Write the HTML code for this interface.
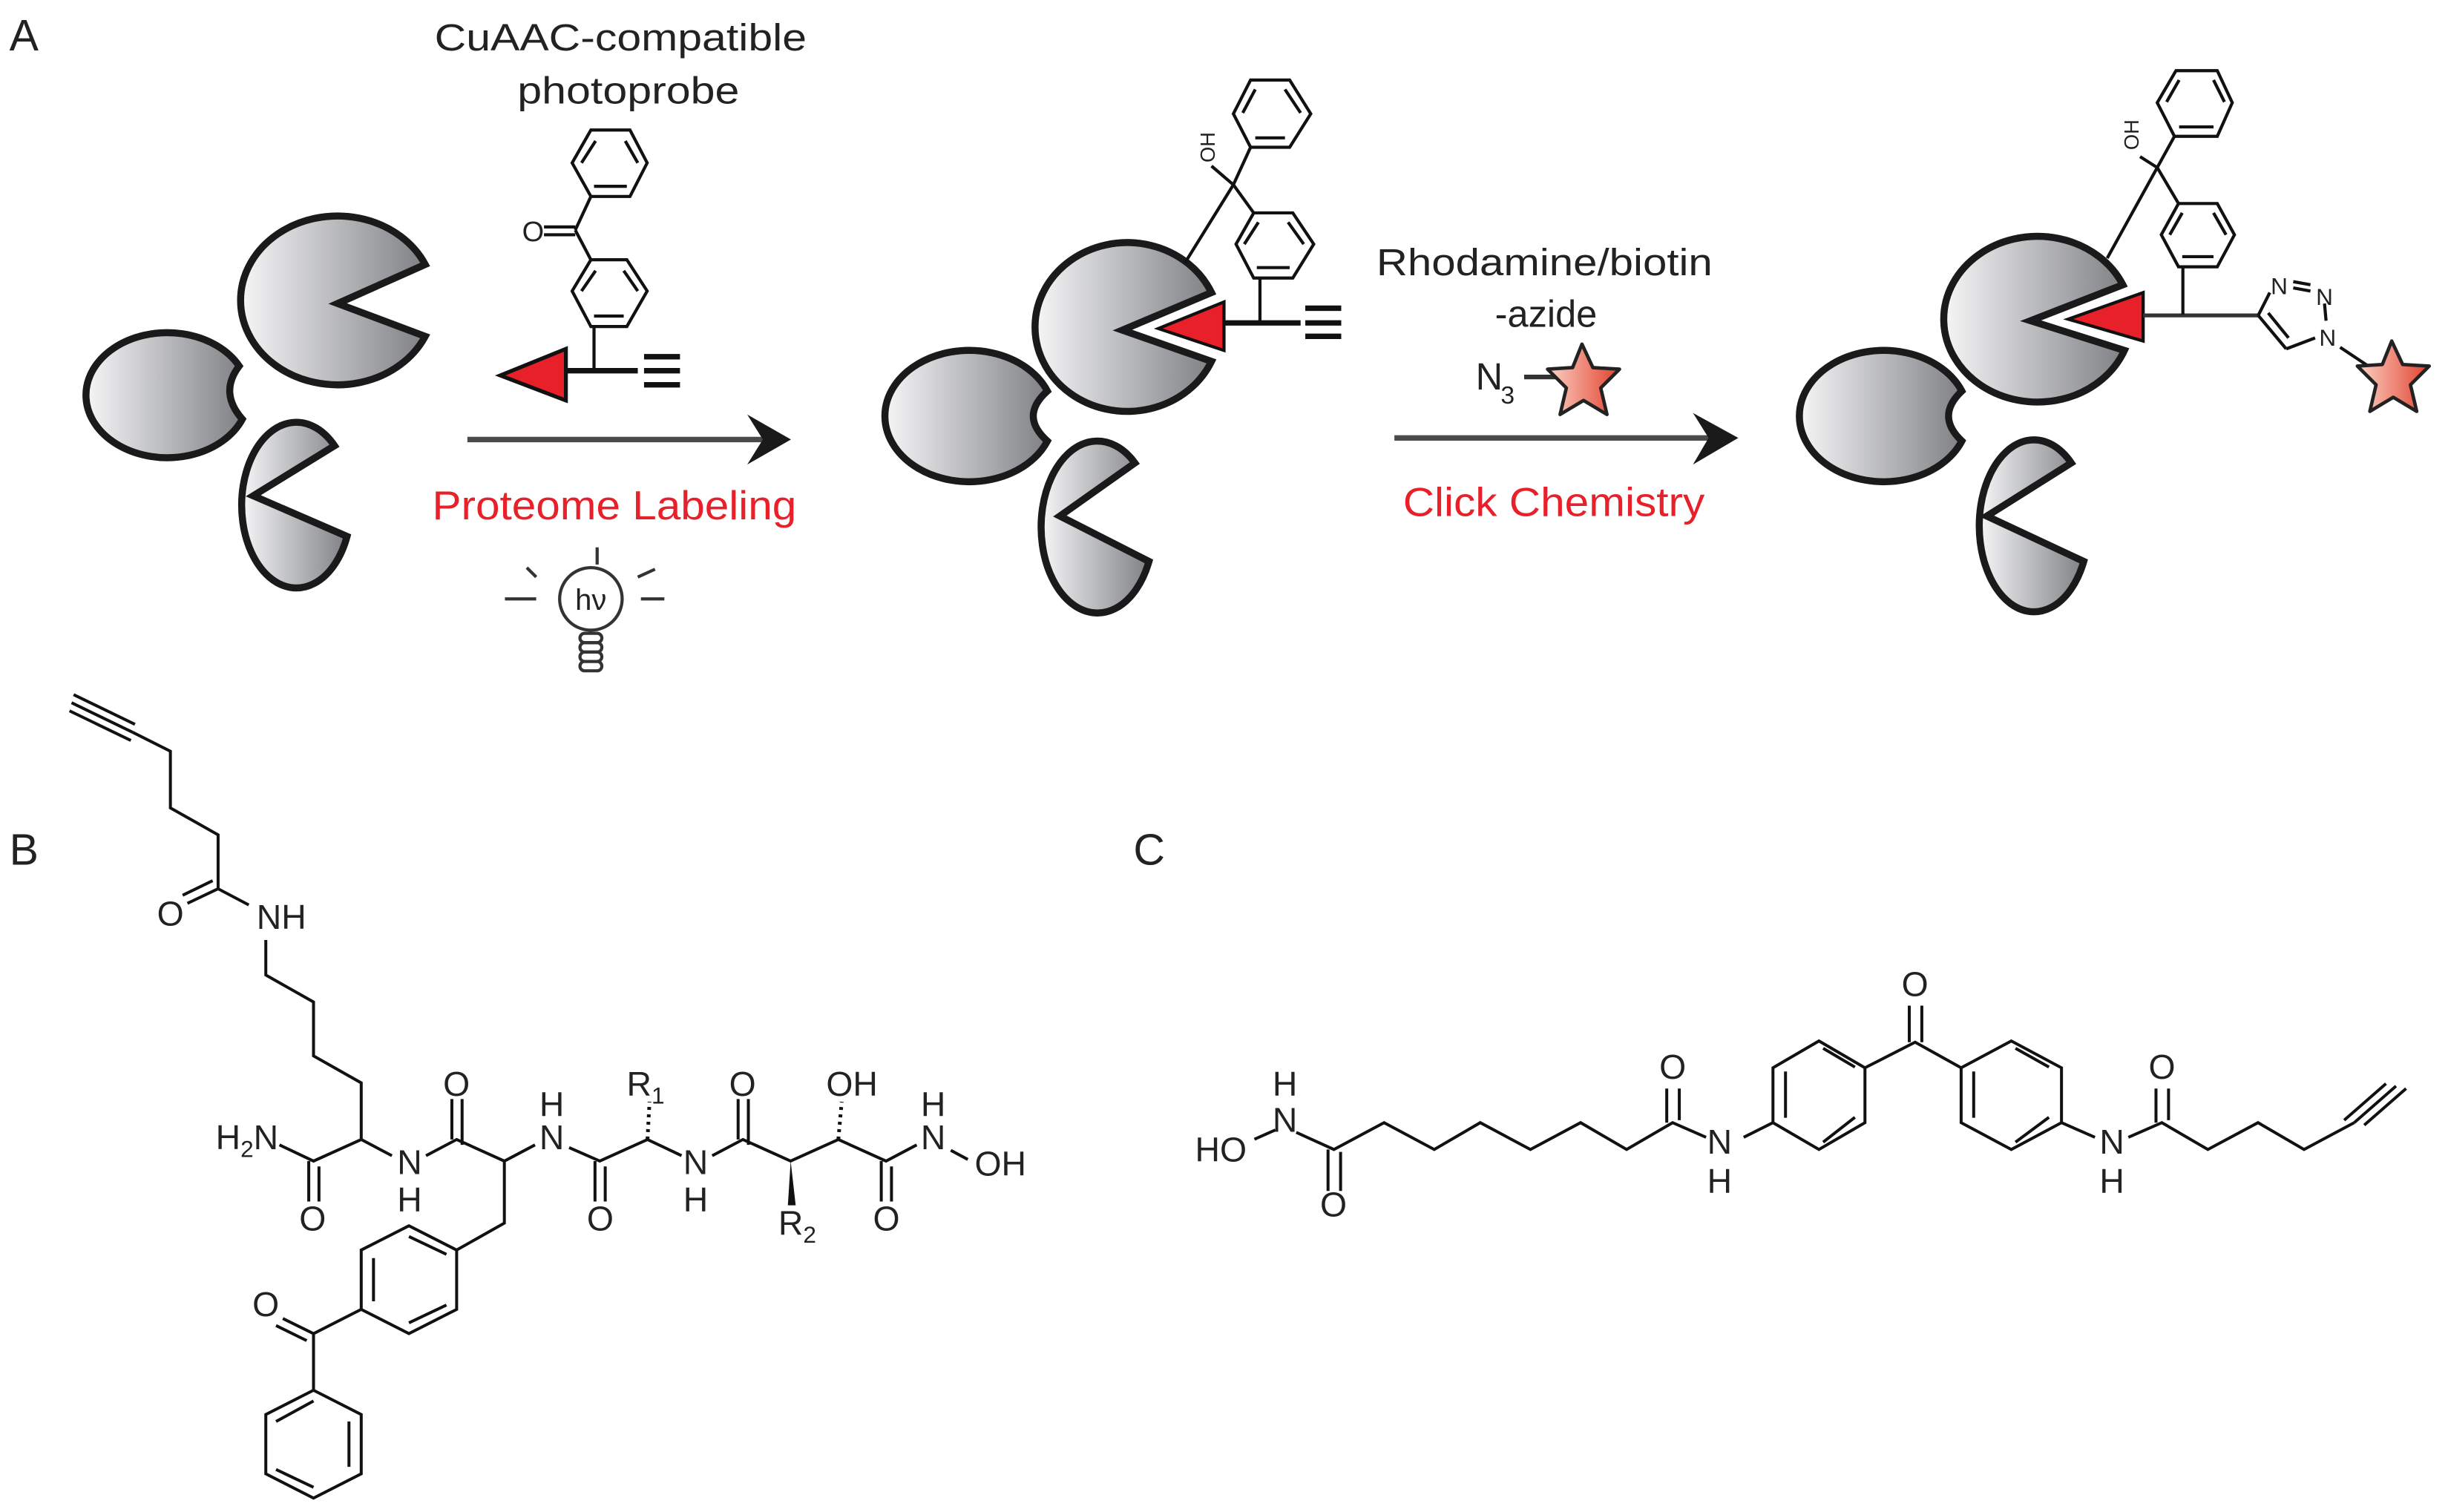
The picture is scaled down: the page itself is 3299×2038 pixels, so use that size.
<!DOCTYPE html>
<html><head><meta charset="utf-8"><style>
html,body{margin:0;padding:0;background:#fff}
svg{display:block}
text{font-family:"Liberation Sans",Arial,sans-serif;fill:#222}
</style></head><body>
<svg width="3299" height="2038" viewBox="0 0 1566 967" xmlns="http://www.w3.org/2000/svg">
<defs>
<linearGradient id="g" x1="0" x2="1" y1="0" y2="0"><stop offset="0" stop-color="#f6f6f7"/><stop offset="1" stop-color="#7f8185"/></linearGradient>
<linearGradient id="sg" x1="0" x2="1" y1="0" y2="0"><stop offset="0" stop-color="#fbd3c5"/><stop offset="1" stop-color="#e2412f"/></linearGradient>
</defs>

<text x="6" y="32" font-size="28">A</text>
<text x="6" y="553" font-size="28">B</text>
<text x="725" y="553" font-size="28">C</text>

<!-- ===== Group 1 ===== -->
<g stroke="#1a1a1a" stroke-width="4.5" fill="url(#g)" stroke-linejoin="miter">
<path d="M216,194 L272,169 A62 54 0 1 0 272,215 Z"/>
<path d="M153,234 Q140,251 155,268 A52 40 0 1 1 153,234 Z"/>
<path d="M162,317 L214,285 A35 53 0 1 0 222,343 Z"/>
</g>
<g stroke="#111" stroke-width="2" fill="none">
<polygon points="378,83 403,83 414,104 403,125.5 378,125.5 366,104"/>
<line x1="381" y1="90" x2="372" y2="104"/><line x1="400" y1="90" x2="408" y2="104"/><line x1="380" y1="119" x2="401" y2="119"/>
<line x1="378" y1="125.5" x2="368" y2="147"/><line x1="368" y1="147" x2="378" y2="166"/>
<line x1="368" y1="145" x2="348" y2="145"/><line x1="368" y1="150" x2="348" y2="150"/>
<polygon points="378,166 401,166 414,186 401,208.7 378,208.7 366,186"/>
<line x1="381" y1="173" x2="372" y2="186"/><line x1="399" y1="173" x2="408" y2="186"/><line x1="380" y1="202" x2="399" y2="202"/>
<line x1="380" y1="209" x2="380" y2="236"/>
</g>
<text x="341" y="154" font-size="18" text-anchor="middle">O</text>
<line x1="360" y1="237" x2="408" y2="237" stroke="#111" stroke-width="3.5"/>
<g stroke="#111" stroke-width="3.5"><line x1="412" y1="228" x2="435" y2="228"/><line x1="412" y1="237" x2="435" y2="237"/><line x1="412" y1="246" x2="435" y2="246"/></g>
<polygon points="320,240 362,223 362,256" fill="#e8202a" stroke="#111" stroke-width="2.5"/>
<line x1="299" y1="281" x2="490" y2="281" stroke="#4a4a4a" stroke-width="3.5"/>
<polygon points="506,281 478,265 488,281 478,297" fill="#1a1a1a"/>
<text x="397" y="32" font-size="24" text-anchor="middle" textLength="238" lengthAdjust="spacingAndGlyphs">CuAAC-compatible</text>
<text x="402" y="66" font-size="24" text-anchor="middle" textLength="142" lengthAdjust="spacingAndGlyphs">photoprobe</text>
<text x="393" y="332" font-size="26" text-anchor="middle" style="fill:#e8202a" textLength="233" lengthAdjust="spacingAndGlyphs">Proteome Labeling</text>
<g stroke="#333" stroke-width="2" fill="none">
<circle cx="378" cy="383" r="20"/>
<line x1="382" y1="350" x2="382" y2="361"/>
<line x1="323" y1="383" x2="343" y2="383"/><line x1="410" y1="383" x2="425" y2="383"/>
<line x1="337" y1="363" x2="343" y2="369"/><line x1="408" y1="369" x2="419" y2="364"/>
<rect x="371" y="405" width="14" height="6" rx="3"/><rect x="371" y="411" width="14" height="6" rx="3"/><rect x="371" y="417" width="14" height="6" rx="3"/><rect x="371" y="423" width="14" height="6" rx="3"/>
</g>
<text x="378" y="390" font-size="19" text-anchor="middle">hν</text>

<!-- ===== Group 2 ===== -->
<g stroke="#1a1a1a" stroke-width="4.5" fill="url(#g)">
<path d="M718,211 L775,187 A59 54 0 1 0 775,231 Z"/>
<path d="M670,250 Q652,266 670,282 A54 42 0 1 1 670,250 Z"/>
<path d="M678,330 L726,296 A36 55 0 1 0 735,359 Z"/>
</g>
<polygon points="741,210 783,193 783,224" fill="#e8202a" stroke="#fff" stroke-width="7"/>
<polygon points="741,210 783,193 783,224" fill="#e8202a" stroke="#111" stroke-width="2"/>
<g stroke="#111" stroke-width="2" fill="none">
<line x1="783" y1="206.4" x2="832" y2="206.4" stroke-width="3.5"/>
<line x1="806" y1="178" x2="806" y2="206"/>
<polygon points="802,136 827,136 840.4,156 827,177.7 802,177.7 790.7,156"/>
<line x1="805" y1="142" x2="796" y2="156"/><line x1="824" y1="142" x2="834" y2="156"/><line x1="804" y1="171" x2="825" y2="171"/>
<polygon points="800,94 825,94 838.5,72.6 825,51 800,51 789,72.6"/>
<line x1="803" y1="57" x2="795" y2="72"/><line x1="822" y1="57" x2="832" y2="72"/><line x1="803" y1="88" x2="822" y2="88"/>
<line x1="800" y1="94" x2="789" y2="118"/><line x1="789" y1="118" x2="802" y2="136"/>
<line x1="789" y1="118" x2="775" y2="106"/>
<line x1="789" y1="118" x2="758" y2="168"/>
</g>
<g stroke="#111" stroke-width="3.5"><line x1="835" y1="197" x2="858" y2="197"/><line x1="835" y1="206.4" x2="858" y2="206.4"/><line x1="835" y1="215" x2="858" y2="215"/></g>
<text transform="translate(777,94) rotate(-90)" font-size="13" text-anchor="middle">OH</text>
<line x1="892" y1="280" x2="1095" y2="280" stroke="#4a4a4a" stroke-width="3.5"/>
<polygon points="1112,280 1083,264 1093,280 1083,297" fill="#1a1a1a"/>
<text x="988" y="176" font-size="24" text-anchor="middle" textLength="215" lengthAdjust="spacingAndGlyphs">Rhodamine/biotin</text>
<text x="989" y="209" font-size="24" text-anchor="middle">-azide</text>
<text x="944" y="249" font-size="24">N</text><text x="960" y="258" font-size="16">3</text>
<line x1="975" y1="241" x2="996" y2="241" stroke="#333" stroke-width="3"/>
<polygon points="1012,220 1019,235 1036,236 1024,248 1028,265 1013,256 998,265 1002,248 990,236 1006,235" fill="url(#sg)" stroke="#222" stroke-width="2.2" stroke-linejoin="round"/>
<text x="994" y="330" font-size="26" text-anchor="middle" style="fill:#e8202a" textLength="193" lengthAdjust="spacingAndGlyphs">Click Chemistry</text>

<!-- ===== Group 3 ===== -->
<g stroke="#1a1a1a" stroke-width="4.5" fill="url(#g)">
<path d="M1299,205 L1358,182 A60 53 0 1 0 1359,224 Z"/>
<path d="M1255,250 Q1238,266 1255,282 A54 42 0 1 1 1255,250 Z"/>
<path d="M1271,330 L1325,296 A35 55 0 1 0 1333,359 Z"/>
</g>
<polygon points="1323,204 1371,187 1371,218" fill="#e8202a" stroke="#fff" stroke-width="7"/>
<polygon points="1323,204 1371,187 1371,218" fill="#e8202a" stroke="#111" stroke-width="2"/>
<g stroke="#111" stroke-width="2" fill="none">
<line x1="1371" y1="201.6" x2="1444.6" y2="201.6" stroke="#333" stroke-width="2.5"/>
<line x1="1396.4" y1="171" x2="1396.4" y2="201"/>
<polygon points="1393.6,130 1418.4,130 1429.4,150 1418.4,170.5 1393.6,170.5 1382.6,150"/>
<line x1="1396" y1="136" x2="1388" y2="150"/><line x1="1416" y1="136" x2="1424" y2="150"/><line x1="1396" y1="164" x2="1416" y2="164"/>
<polygon points="1391,87 1418.4,87 1428,65.5 1418.4,45 1392,45 1380,65.5"/>
<line x1="1394" y1="51" x2="1386" y2="65"/><line x1="1416" y1="51" x2="1423" y2="65"/><line x1="1394" y1="81" x2="1416" y2="81"/>
<line x1="1391" y1="87" x2="1380" y2="107"/><line x1="1380" y1="107" x2="1393.6" y2="130"/>
<line x1="1380" y1="107" x2="1369" y2="100"/>
<line x1="1380" y1="107" x2="1348" y2="165"/>
<line x1="1444.6" y1="201.6" x2="1452" y2="187"/>
<line x1="1444.6" y1="201.6" x2="1462.5" y2="223"/><line x1="1451" y1="200" x2="1464" y2="216"/>
<line x1="1462.5" y1="223" x2="1481" y2="216"/>
<line x1="1487" y1="194" x2="1488" y2="205"/>
<line x1="1467" y1="180" x2="1478" y2="182"/><line x1="1467" y1="184" x2="1478" y2="186"/>
<line x1="1497" y1="222" x2="1518" y2="236"/>
</g>
<text transform="translate(1368,86) rotate(-90)" font-size="13" text-anchor="middle">OH</text>
<text x="1458" y="188" font-size="15" text-anchor="middle">N</text>
<text x="1487" y="195" font-size="15" text-anchor="middle">N</text>
<text x="1489" y="221" font-size="15" text-anchor="middle">N</text>
<polygon points="1530,218 1537,233 1554,234 1542,246 1546,263 1531,254 1516,263 1520,246 1508,234 1524,233" fill="url(#sg)" stroke="#222" stroke-width="2.2" stroke-linejoin="round"/>

<!-- ===== Panel B skeleton ===== -->
<g transform="matrix(0.436,0,0,0.345,0,427)" stroke="#111" stroke-width="4" fill="none">
<path vector-effect="non-scaling-stroke" d="M105,65 L195,120 M108,50 L198,105 M102,80 L192,135"/>
<path vector-effect="non-scaling-stroke" d="M195,120 L250,155 L250,260 L320,310 L320,410 L365,440"/>
<path vector-effect="non-scaling-stroke" d="M320,410 L275,437 M312,395 L268,422"/>
<path vector-effect="non-scaling-stroke" d="M390,505 L390,570 L460,620 L460,720 L530,770 L530,875 L460,915 L410,885"/>
<path vector-effect="non-scaling-stroke" d="M453,915 L453,990 M468,925 L468,990"/>
<path vector-effect="non-scaling-stroke" d="M530,875 L575,905 M625,905 L670,875 L740,915 L785,885 M835,890 L880,915 L950,875 L1000,905 M1045,905 L1090,875 L1160,915 L1230,875 L1300,915 L1345,885"/>
<path vector-effect="non-scaling-stroke" d="M663,875 L663,800 M678,885 L678,800"/>
<path vector-effect="non-scaling-stroke" d="M873,915 L873,990 M888,925 L888,990"/>
<path vector-effect="non-scaling-stroke" d="M1083,875 L1083,800 M1098,885 L1098,800"/>
<path vector-effect="non-scaling-stroke" d="M1293,915 L1293,990 M1308,925 L1308,990"/>
<path vector-effect="non-scaling-stroke" d="M1395,895 L1420,912"/>
<path vector-effect="non-scaling-stroke" d="M950,875 L953,805 M1230,875 L1235,805" stroke-dasharray="4 6" stroke-width="5"/>
<path vector-effect="non-scaling-stroke" d="M740,915 L740,1030 L670,1080"/>
<path vector-effect="non-scaling-stroke" d="M670,1080 L670,1190 L600,1235 L530,1190 L530,1080 L600,1035 Z"/>
<path vector-effect="non-scaling-stroke" d="M655,1088 L600,1055 M655,1182 L600,1215 M548,1095 L548,1175"/>
<path vector-effect="non-scaling-stroke" d="M530,1190 L460,1235 L460,1340 M460,1235 L415,1207 M450,1248 L405,1220"/>
<path vector-effect="non-scaling-stroke" d="M460,1340 L530,1385 L530,1495 L460,1540 L390,1495 L390,1385 Z"/>
<path vector-effect="non-scaling-stroke" d="M512,1398 L512,1482 M460,1520 L405,1487 M405,1398 L460,1360"/>
</g>
<polygon points="505.8,742.7 504,771 509,771" fill="#111"/>
<g font-size="22" text-anchor="middle">
<text x="109" y="592">O</text>
<text x="180" y="594">NH</text>
<text x="158" y="735">H<tspan font-size="15" dy="5">2</tspan><tspan dy="-5">N</tspan></text>
<text x="200" y="787">O</text>
<text x="262" y="751">N</text><text x="262" y="775">H</text>
<text x="292" y="701">O</text>
<text x="353" y="714">H</text><text x="353" y="735">N</text>
<text x="384" y="787">O</text>
<text x="413" y="701">R<tspan font-size="15" dy="5">1</tspan></text>
<text x="445" y="751">N</text><text x="445" y="775">H</text>
<text x="475" y="701">O</text>
<text x="510" y="790">R<tspan font-size="15" dy="5">2</tspan></text>
<text x="545" y="701">OH</text>
<text x="567" y="787">O</text>
<text x="597" y="714">H</text><text x="597" y="735">N</text>
<text x="640" y="752">OH</text>
<text x="170" y="842">O</text>
</g>

<!-- ===== Panel C skeleton ===== -->
<g transform="matrix(0.535,0,0,0.156,735.6,593.3)" stroke="#111" fill="none">
<path vector-effect="non-scaling-stroke" stroke-width="4" d="M125,868 L150,830 M175,840 L220,910 L280,800 L340,910 L395,800 L455,910 L515,800 L570,910 L625,800 L665,860 M710,860 L745,800"/>
<path vector-effect="non-scaling-stroke" stroke-width="4" d="M213,910 L213,1080 M228,920 L228,1080"/>
<path vector-effect="non-scaling-stroke" stroke-width="4" d="M618,800 L618,660 M633,790 L633,660"/>
<path vector-effect="non-scaling-stroke" stroke-width="4" d="M745,800 L745,575 L800,465 L855,575 L855,800 L800,910 Z M805,495 L843,572 M760,590 L760,780 M843,778 L805,880"/>
<path vector-effect="non-scaling-stroke" stroke-width="4" d="M855,575 L915,470 L970,575 M908,470 L908,320 M923,470 L923,320"/>
<path vector-effect="non-scaling-stroke" stroke-width="4" d="M970,575 L1030,465 L1090,575 L1090,800 L1030,910 L970,800 Z M1035,495 L1075,572 M985,590 L985,780 M1075,778 L1035,880"/>
<path vector-effect="non-scaling-stroke" stroke-width="4" d="M1090,800 L1130,860 M1170,860 L1210,800 L1265,910 L1325,800 L1380,910 L1440,800"/>
<path vector-effect="non-scaling-stroke" stroke-width="4" d="M1203,800 L1203,660 M1218,790 L1218,660"/>
<path vector-effect="non-scaling-stroke" stroke-width="4" d="M1440,800 L1490,650 M1428,790 L1478,640 M1452,810 L1502,660"/>
</g>
<g font-size="22" text-anchor="middle">
<text x="781" y="743">HO</text>
<text x="822" y="724">N</text><text x="822" y="701">H</text>
<text x="853" y="778">O</text>
<text x="1070" y="690">O</text>
<text x="1100" y="738">N</text><text x="1100" y="763">H</text>
<text x="1225" y="637">O</text>
<text x="1351" y="738">N</text><text x="1351" y="763">H</text>
<text x="1383" y="690">O</text>
</g>
</svg>
</body></html>
